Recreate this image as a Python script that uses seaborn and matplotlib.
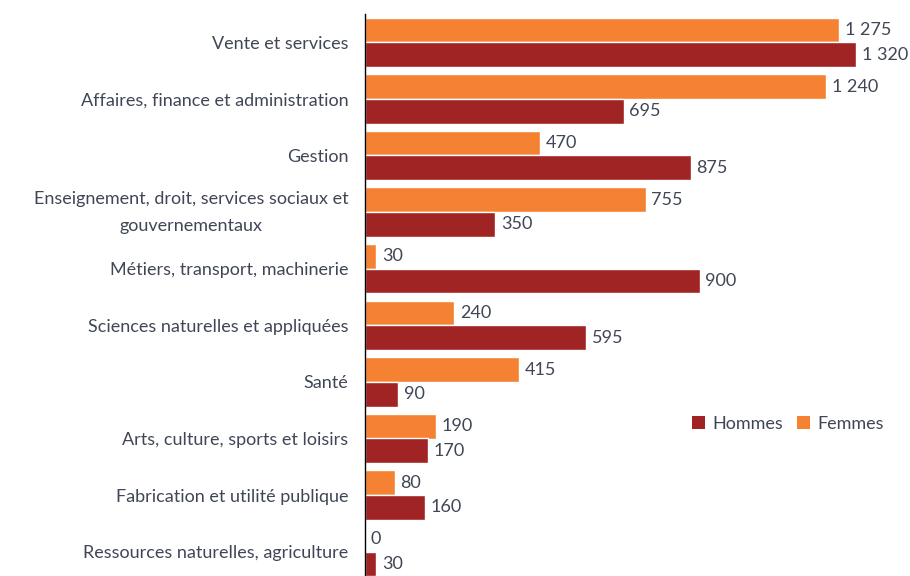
import matplotlib
matplotlib.use("Agg")
import matplotlib.pyplot as plt
import seaborn as sns
import pandas as pd
from matplotlib.patches import Patch

categories = [
    "Vente et services",
    "Affaires, finance et administration",
    "Gestion",
    "Enseignement, droit, services sociaux et\ngouvernementaux",
    "Métiers, transport, machinerie",
    "Sciences naturelles et appliquées",
    "Santé",
    "Arts, culture, sports et loisirs",
    "Fabrication et utilité publique",
    "Ressources naturelles, agriculture",
]
femmes = [1275, 1240, 470, 755, 30, 240, 415, 190, 80, 0]
hommes = [1320, 695, 875, 350, 900, 595, 90, 170, 160, 30]
series = ["Femmes", "Hommes"]
legend_order = ["Hommes", "Femmes"]
colors = {"Femmes": "#F58232", "Hommes": "#A12424"}
text_color = "#404656"

df = pd.DataFrame({
    "cat": categories * 2,
    "val": femmes + hommes,
    "sexe": ["Femmes"] * len(categories) + ["Hommes"] * len(categories),
})

sns.set_style("white")
plt.rcParams["font.family"] = ["Lato", "DejaVu Sans"]

fig = plt.figure(figsize=(9.1, 5.76), dpi=100)
ax = fig.add_axes([365 / 910, -4 / 576, 1 - 365 / 910, 566 / 576])

sns.barplot(data=df, x="val", y="cat", hue="sexe", hue_order=series,
            order=categories, palette=colors, orient="h", width=0.87,
            gap=0, saturation=1, ax=ax, legend=False)

for cont in ax.containers:
    labels = [f"{int(v):,}".replace(",", " ") for v in cont.datavalues]
    ax.bar_label(cont, labels=labels, padding=4, fontsize=13, color=text_color)

ax.set_xlim(0, 1465)
ax.set_ylim(len(categories) - 0.5, -0.5)
ax.set_xlabel("")
ax.set_ylabel("")
ax.set_xticks([])
for s in ["top", "right", "bottom"]:
    ax.spines[s].set_visible(False)
ax.spines["left"].set_color("#000000")
ax.spines["left"].set_linewidth(1)

ax.set_yticks(range(len(categories)))
ax.set_yticklabels(categories, fontsize=13, color=text_color, multialignment="center",
                   linespacing=1.85)
for lbl in ax.get_yticklabels():
    if "\n" in lbl.get_text():
        lbl.set_va("center")
ax.set_yticks([i - 0.5 for i in range(len(categories) + 1)], minor=True)
ax.tick_params(axis="y", which="major", length=0, pad=12)
ax.tick_params(axis="y", which="minor", length=5, width=1, color="#000000", direction="out")

handles = [Patch(facecolor=colors[s], edgecolor="none", label=s) for s in legend_order]
ax.legend(handles=handles, ncol=2, frameon=False, loc="center left",
          bbox_to_anchor=((685 - 365) / 545, 1 - (424 - 14) / 566),
          fontsize=13, labelcolor=text_color, handlelength=0.7, handleheight=0.7,
          handletextpad=0.4, columnspacing=0.8, borderaxespad=0)

fig.savefig("out.png", dpi=100)
